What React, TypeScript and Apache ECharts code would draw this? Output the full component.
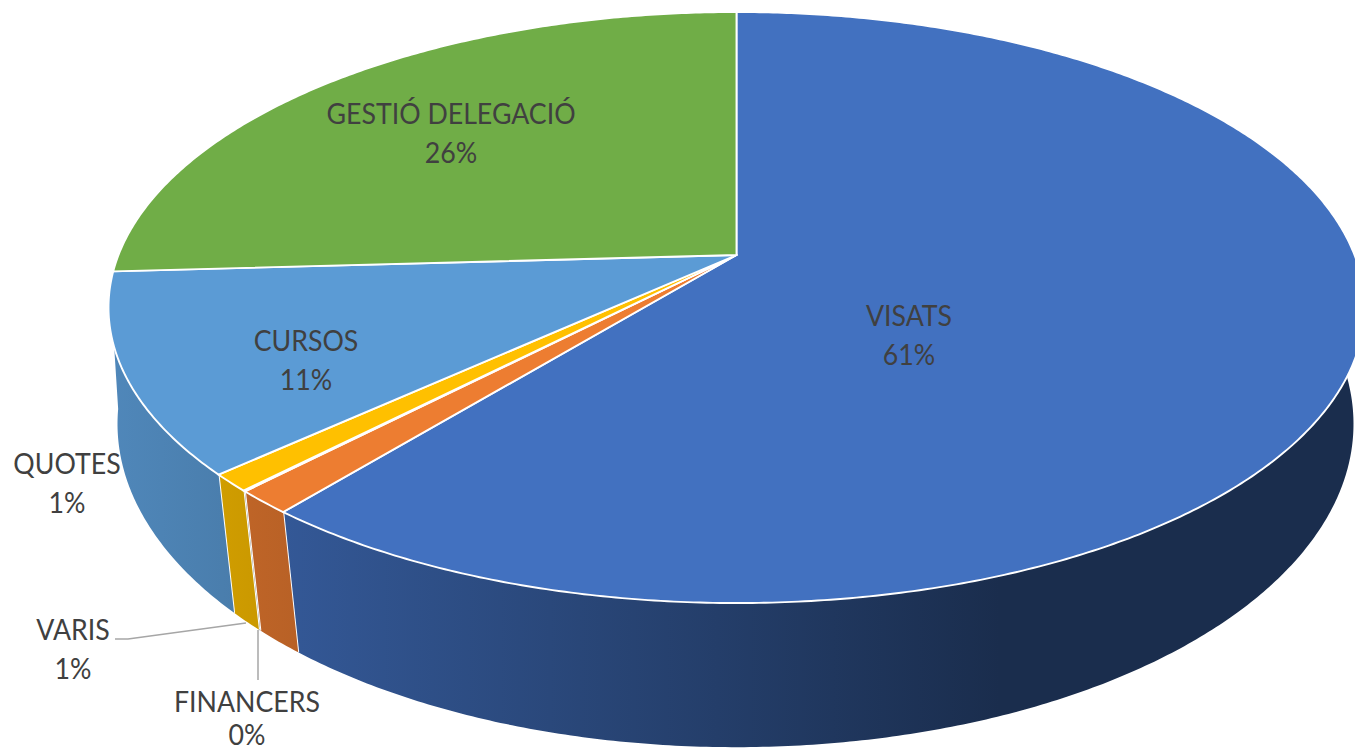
import React, { useEffect, useRef } from "react";
import * as echarts from "echarts";

const CATEGORIES = ["VISATS", "VARIS", "FINANCERS", "QUOTES", "CURSOS", "GESTIÓ DELEGACIÓ"];
const VALUES = [60.9, 1.3, 0.05, 0.95, 10.9, 25.9];
const COLORS = ["#4271C0", "#ED7D31", "#A5A5A5", "#FFC000", "#5B9BD5", "#70AD47"];

// Perspective of the tilted pie
const TOP = { cx: 736.5, cy: 255, a: 618, b: 286.2, k: 0.1777 };
const BOTTOM = { cx: 735.5, cy: 375.4, a: 611, b: 316, k: 0.15 };
const WALL_FROM = 84;
const WALL_TO = 264;

// Label centres (first line) and leader lines
const LABEL_POS: Record<string, [number, number]> = {
  VISATS: [909, 315],
  VARIS: [73, 629],
  FINANCERS: [247, 701],
  QUOTES: [67, 463],
  CURSOS: [306, 340],
  "GESTIÓ DELEGACIÓ": [451, 113],
};
const LEADERS: [number, number][][] = [
  [[115, 639], [128, 639], [246, 623]],
  [[258, 630], [258, 680]],
];
const LABEL_MAX_Y = 734;

const total = VALUES.reduce((s, v) => s + v, 0);
const starts: number[] = [];
VALUES.reduce((acc, v, i) => {
  starts[i] = acc;
  return acc + v;
}, 0);
const deg = (v: number) => (v / total) * 360;

function project(p: typeof TOP, angleDeg: number): [number, number] {
  const r = (angleDeg * Math.PI) / 180;
  const u = Math.sin(r);
  const v = -Math.cos(r);
  const d = 1 - p.k * v;
  return [p.cx + (p.a * u) / d, p.cy + (p.b * v) / d];
}

function arc(p: typeof TOP, from: number, to: number): [number, number][] {
  const pts: [number, number][] = [];
  const n = Math.max(2, Math.ceil((to - from) / 0.5));
  for (let i = 0; i <= n; i++) pts.push(project(p, from + ((to - from) * i) / n));
  return pts;
}

function shade(hex: string, f: number) {
  const n = parseInt(hex.slice(1), 16);
  const c = [(n >> 16) & 255, (n >> 8) & 255, n & 255].map((x) => Math.round(x * f));
  return `rgb(${c[0]},${c[1]},${c[2]})`;
}

const renderWall = (params: any, api: any) => {
  const i = params.dataIndex;
  const from = (starts[i] / total) * 360;
  const to = from + deg(api.value(0));
  const a0 = Math.max(from, WALL_FROM);
  const a1 = Math.min(to, WALL_TO);
  if (a1 <= a0) return { type: "group", children: [] };
  const pts = [...arc(TOP, a0, a1), ...arc(BOTTOM, a0, a1).reverse()];
  const fill = new echarts.graphic.LinearGradient(
    100, 0, 1000, 0,
    [
      { offset: 0, color: shade(COLORS[i], 0.88) },
      { offset: 1, color: shade(COLORS[i], 0.4) },
    ],
    true
  );
  const children: any[] = [
    { type: "polygon", shape: { points: pts }, style: { fill, stroke: null } },
  ];
  if (to >= WALL_FROM && to <= WALL_TO) {
    const a = project(TOP, to);
    const b = project(BOTTOM, to);
    children.push({
      type: "line",
      shape: { x1: a[0], y1: a[1], x2: b[0], y2: b[1] },
      style: { stroke: "#ffffff", lineWidth: 2 },
    });
  }
  return { type: "group", children };
};

const renderTop = (params: any, api: any) => {
  const i = params.dataIndex;
  const from = (starts[i] / total) * 360;
  const to = from + deg(api.value(0));
  const pts = [[TOP.cx, TOP.cy], ...arc(TOP, from, to)];
  return {
    type: "polygon",
    shape: { points: pts },
    style: { fill: COLORS[i], stroke: "#ffffff", lineWidth: 1.9, lineJoin: "round" },
  };
};

const seriesData = VALUES.map((v, i) => ({ name: CATEGORIES[i], value: [v] }));

export default function App() {
  const ref = useRef<HTMLDivElement>(null);
  useEffect(() => {
    const chart = echarts.init(ref.current!, null, { renderer: "svg" });
    chart.setOption({
      animation: false,
      backgroundColor: "#ffffff",
      series: [
        { type: "custom", coordinateSystem: "none", silent: true, z: 1, renderItem: renderWall, data: seriesData },
        { type: "custom", coordinateSystem: "none", silent: true, z: 2, renderItem: renderTop, data: seriesData },
      ],
      graphic: [
        ...LEADERS.map((pts) => ({
          type: "polyline",
          z: 5,
          shape: { points: pts },
          style: { stroke: "#A6A6A6", lineWidth: 1.5, fill: null },
        })),
        ...CATEGORIES.flatMap((name, i) => {
          const [x, y] = LABEL_POS[name];
          return [
            { text: name, dy: 0 },
            { text: `${Math.round((VALUES[i] / total) * 100)}%`, dy: 39 },
          ].map((t) => ({
            type: "text",
            z: 6,
            x,
            y: Math.min(y + t.dy, LABEL_MAX_Y),
            scaleX: 0.955,
            style: {
              text: t.text,
              fontFamily: "Lato",
              fontSize: 28,
              fill: "#404040",
              align: "center",
              verticalAlign: "middle",
            },
          }));
        }),
      ],
    });
    return () => chart.dispose();
  }, []);
  return (
    <div
      ref={ref}
      style={{ position: "fixed", left: 0, top: 0, width: 1355, height: 751 }}
    />
  );
}
